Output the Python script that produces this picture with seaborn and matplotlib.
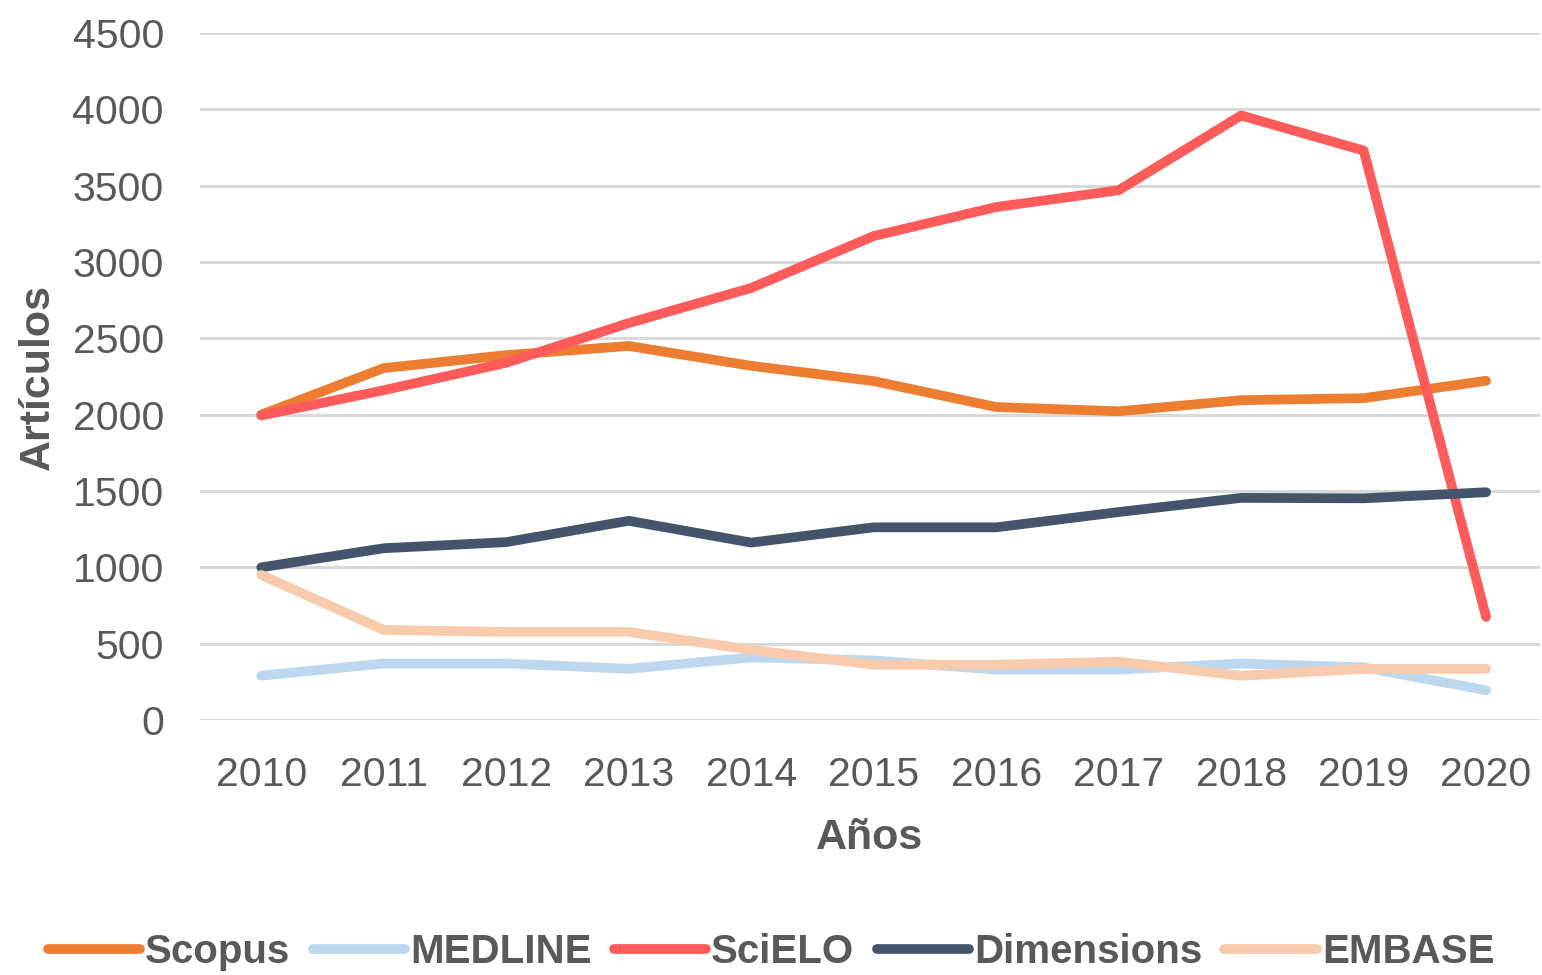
import pandas as pd
import matplotlib
matplotlib.use("Agg")
import matplotlib.pyplot as plt
import seaborn as sns

years = [2010, 2011, 2012, 2013, 2014, 2015, 2016, 2017, 2018, 2019, 2020]
scopus = [2000, 2305, 2390, 2450, 2320, 2220, 2050, 2022, 2095, 2108, 2222]
medline = [290, 370, 370, 335, 410, 390, 330, 330, 370, 345, 195]
scielo = [1995, 2160, 2340, 2600, 2830, 3170, 3360, 3470, 3960, 3730, 675]
dimensions = [1000, 1125, 1165, 1305, 1162, 1262, 1262, 1362, 1455, 1452, 1492]
embase = [950, 590, 577, 577, 460, 362, 362, 382, 290, 335, 335]

series_names = ["Scopus", "MEDLINE", "SciELO", "Dimensions", "EMBASE"]
colors = ["#ED7D31", "#BDD7EE", "#FF5B5B", "#44546A", "#F8CBAD"]

df = pd.DataFrame({"Años": years, "Scopus": scopus, "MEDLINE": medline,
                   "SciELO": scielo, "Dimensions": dimensions, "EMBASE": embase})
long = df.melt(id_vars="Años", var_name="Fuente", value_name="Artículos")

sns.set_theme(style="white")
plt.rcParams["font.family"] = ["Liberation Sans", "DejaVu Sans"]

fig = plt.figure(figsize=(15.42, 9.75), dpi=100)
ax = fig.add_axes([200 / 1542, 1 - 720 / 975, 1340 / 1542, 687 / 975])

sns.lineplot(data=long, x="Años", y="Artículos", hue="Fuente",
             hue_order=series_names, palette=colors, linewidth=7,
             ax=ax, legend=True, solid_capstyle="round")

ax.set_xlim(2009.5, 2020.44)
ax.set_ylim(0, 4500)
ax.set_yticks(range(0, 4501, 500))
ax.set_xticks(years)
ax.yaxis.grid(True, color="#d9d9d9", linewidth=2.2)
ax.xaxis.grid(False)
ax.set_axisbelow(True)
for s in ax.spines.values():
    s.set_visible(False)
ax.tick_params(axis="both", length=0, labelsize=29.5, labelcolor="#595959")
ax.tick_params(axis="y", pad=26)
ax.tick_params(axis="x", pad=26)

ax.set_xlabel("Años", fontsize=31, fontweight="bold", color="#595959", labelpad=17)
ax.set_ylabel("Artículos", fontsize=31, fontweight="bold", color="#595959")
ax.yaxis.set_label_coords(-0.106, 0.5)

handles, labels = ax.get_legend_handles_labels()
ax.get_legend().remove()
for h in handles:
    h.set_solid_capstyle("round")
leg = fig.legend(handles, labels, loc="center", bbox_to_anchor=(0.5, 0.024),
                 ncol=5, frameon=False, handlelength=2.3, handletextpad=0.12,
                 columnspacing=0.55, prop={"size": 29, "weight": "bold"})
for t in leg.get_texts():
    t.set_color("#595959")

fig.savefig("out.png", dpi=100)
